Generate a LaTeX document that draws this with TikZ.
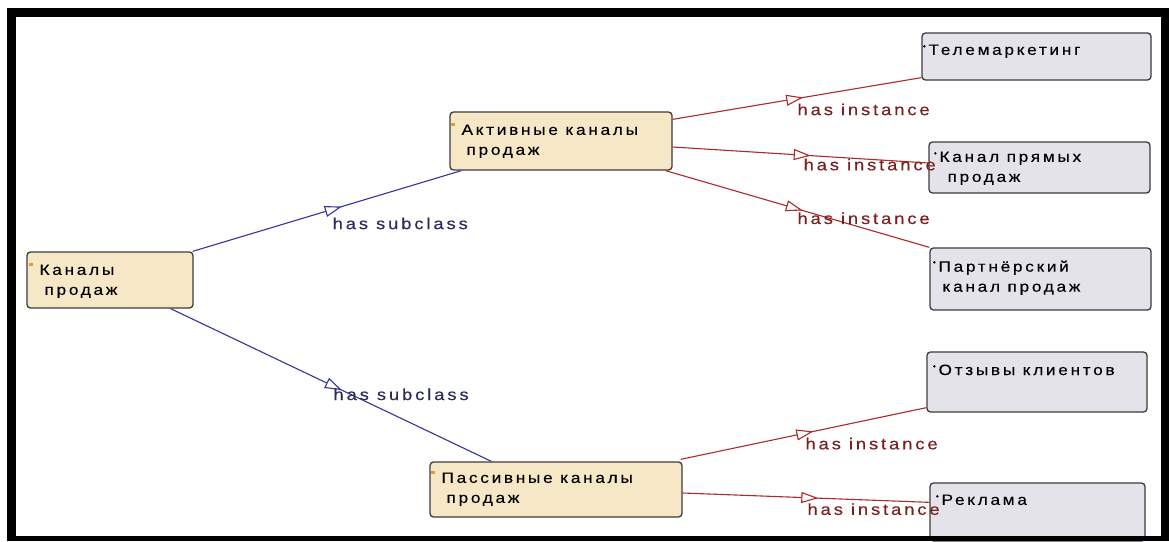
\documentclass[tikz,border=0pt]{standalone}
\usepackage{fontspec}
\setmainfont{Liberation Sans}
\newfontfamily\diagfont[LetterSpace=18, FakeStretch=1.15, FakeBold=0.2]{Liberation Sans}
\usetikzlibrary{arrows.meta,decorations.markings,calc}

\definecolor{classfill}{HTML}{F6E8C6}
\definecolor{instfill}{HTML}{E4E3E9}
\definecolor{boxline}{HTML}{3C3C3C}
\definecolor{classmark}{HTML}{E0A030}
\definecolor{sublinecol}{HTML}{3434A0}
\definecolor{instlinecol}{HTML}{B02828}
\definecolor{sublabelcol}{HTML}{2C2C5A}
\definecolor{instlabelcol}{HTML}{7B1E1E}

\tikzset{
  box/.style={draw=boxline, line width=1.3pt, rounded corners=3.5pt, inner sep=0pt},
  classbox/.style={box, fill=classfill},
  instbox/.style={box, fill=instfill},
  ntext/.style={inner sep=0pt, anchor=north west, align=left, text=black,
    font=\diagfont\fontsize{15}{20}\selectfont},
  linkbase/.style={line width=1.1pt, postaction={decorate}},
  sublink/.style={linkbase, draw=sublinecol,
    decoration={markings, mark=at position #1 with
      {\arrow[sublinecol]{Triangle[length=17pt, width=11pt, fill=white, line width=1.1pt]}}}},
  instlink/.style={linkbase, draw=instlinecol,
    decoration={markings, mark=at position #1 with
      {\arrow[instlinecol]{Triangle[length=17pt, width=11pt, fill=white, line width=1.1pt]}}}},
  lblbase/.style={inner sep=0pt, anchor=north west, font=\diagfont\fontsize{16}{18}\selectfont},
  sublbl/.style={lblbase, text=sublabelcol},
  instlbl/.style={lblbase, text=instlabelcol},
  frame/.style={fill=black},
}

\begin{document}
\begin{tikzpicture}[x=1pt, y=-1pt]
\useasboundingbox (0,0) rectangle (1169,541);
\fill[white] (0,0) rectangle (1169,541);

% class boxes
\node[classbox, minimum width=166pt, minimum height=56pt] (kan) at (110,280) {};
\node[classbox, minimum width=222pt, minimum height=58pt] (akt) at (561,141) {};
\node[classbox, minimum width=252pt, minimum height=55pt] (pas) at (556,489.5) {};

% instance boxes
\node[instbox, minimum width=229pt, minimum height=47pt] (tel) at (1036.5,56.5) {};
\node[instbox, minimum width=221pt, minimum height=51pt] (pry) at (1039.5,167.5) {};
\node[instbox, minimum width=221pt, minimum height=62pt] (par) at (1040.5,279) {};
\node[instbox, minimum width=220pt, minimum height=60pt] (otz) at (1037,382) {};
\node[instbox, minimum width=215pt, minimum height=58pt] (rek) at (1037.5,512) {};

% box captions
\node[ntext] (kan-t) at ($(kan.north west)+(13,13)$) {Каналы\\\hspace*{5pt}продаж};
\node[ntext] (akt-t) at ($(akt.north west)+(12,13)$) {Активные каналы\\\hspace*{5pt}продаж};
\node[ntext] (pas-t) at ($(pas.north west)+(12,11)$) {Пассивные каналы\\\hspace*{5pt}продаж};
\node[ntext] (tel-t) at ($(tel.north west)+(7,12)$) {Телемаркетинг};
\node[ntext] (pry-t) at ($(pry.north west)+(11,10)$) {Канал прямых\\\hspace*{8pt}продаж};
\node[ntext] (par-t) at ($(par.north west)+(9,13)$) {Партнёрский\\\hspace*{4pt}канал продаж};
\node[ntext] (otz-t) at ($(otz.north west)+(12,13)$) {Отзывы клиентов};
\node[ntext] (rek-t) at ($(rek.north west)+(12,12)$) {Реклама};

% class markers and instance dots
\foreach \t in {kan-t, akt-t, pas-t}
  \fill[classmark] ($(\t.north west)+(-10,-1)$) rectangle +(4,3);
\foreach \t in {tel-t, pry-t, par-t, otz-t, rek-t}
  \fill[black] ($(\t.north west)+(-4,2)$) circle (1.3pt);

% subclass links
\draw[sublink=0.555] ($(kan.north east)+(-1,0)$)
  -- node[sublbl, pos=0.519, yshift=-7.5pt] {has subclass} ($(akt.south west)+(12,0)$);
\draw[sublink=0.534] ($(kan.south east)+(-23,0)$)
  -- node[sublbl, pos=0.506, yshift=-2pt] {has subclass} ($(pas.north west)+(62,0)$);

% instance links
\draw[instlink=0.525] ($(akt.north east)+(0,8)$)
  -- node[instlbl, pos=0.5, yshift=-4.5pt] {has instance} ($(tel.south west)+(0,-3)$);
\draw[instlink=0.54] ($(akt.east)+(0,6)$)
  -- node[instlbl, pos=0.51, yshift=-3pt] {has instance} ($(pry.west)+(0,-4.5)$);
\draw[instlink=0.52] ($(akt.south east)+(-7,0)$)
  -- node[instlbl, pos=0.498, yshift=-3pt] {has instance} (par.north west);
\draw[instlink=0.54] ($(pas.north east)+(-2,-2)$)
  -- node[instlbl, pos=0.506, yshift=-4pt] {has instance} ($(otz.south west)+(0,-5)$);
\draw[instlink=0.55] ($(pas.east)+(0,3.5)$)
  -- node[instlbl, pos=0.504, yshift=-5pt] {has instance} ($(rek.north west)+(0,20)$);

% surrounding frame
\fill[frame] (7,8) rectangle (1169,17);
\fill[frame] (7,8) rectangle (16,541);
\fill[frame] (1161,8) rectangle (1169,541);
\fill[frame] (7,536) rectangle (1169,541);
\end{tikzpicture}
\end{document}
